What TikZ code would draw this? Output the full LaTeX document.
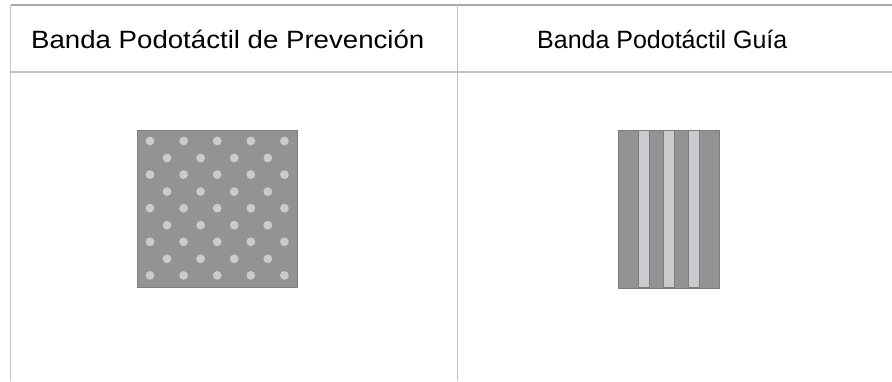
\documentclass[tikz,border=0pt]{standalone}
\usepackage{fontspec}
\usepackage{graphicx}
\setmainfont{Liberation Sans}
\definecolor{rule}{HTML}{C4C4C4}
\definecolor{toprule}{HTML}{A8A8A8}
\definecolor{tiledark}{HTML}{939396}
\definecolor{tilelight}{HTML}{CACBCE}
\begin{document}
\begin{tikzpicture}[x=1pt,y=-1pt,
  gridline/.style={draw=rule,line width=1.2pt},
  headtext/.style={font=\fontsize{25}{29}\selectfont,anchor=base west,inner sep=0pt},
  tile/.style={fill=tiledark,draw=tiledark!85!black,line width=0.6pt},
  dot/.style={fill=tilelight,draw=none},
  stripe/.style={fill=tilelight,draw=tiledark!85!black,line width=0.5pt}]
\useasboundingbox (0,0) rectangle (892,381);
% grid
\coordinate (tl) at (10.7,5);
\coordinate (tr) at (892,5);
\coordinate (hl) at (10.7,72);
\coordinate (hr) at (892,72);
\coordinate (bl) at (10.7,381);
\coordinate (mt) at (457.7,5);
\coordinate (mb) at (457.7,381);
\draw[draw=toprule,line width=1.4pt] (tl) -- (tr);
\draw[gridline] (hl) -- (hr);
\draw[gridline] (tl) -- (bl);
\draw[gridline] (mt) -- (mb);
% headers
\node[headtext] (h1) at (31,48.5) {\scalebox{1.105}[1]{Banda Podotáctil de Prevención}};
\node[headtext] (h2) at (537,48.5) {Banda Podotáctil Guía};
% left tile
\path[tile] (137,130) rectangle (297,287);
\foreach \r in {0,...,4}{
  \foreach \c in {0,...,4}{
    \fill[dot] ({150+33.6*\c},{141+33.6*\r}) circle (4.4);
  }
}
\foreach \r in {0,...,3}{
  \foreach \c in {0,...,3}{
    \fill[dot] ({167+33.6*\c},{158+33.6*\r}) circle (4.4);
  }
}
% right tile
\path[tile] (618.3,130) rectangle (719,288);
\foreach \x in {638.3,663.3,688.3}{
  \path[stripe] (\x,130.5) rectangle ({\x+11},287.5);
}
\end{tikzpicture}
\end{document}
